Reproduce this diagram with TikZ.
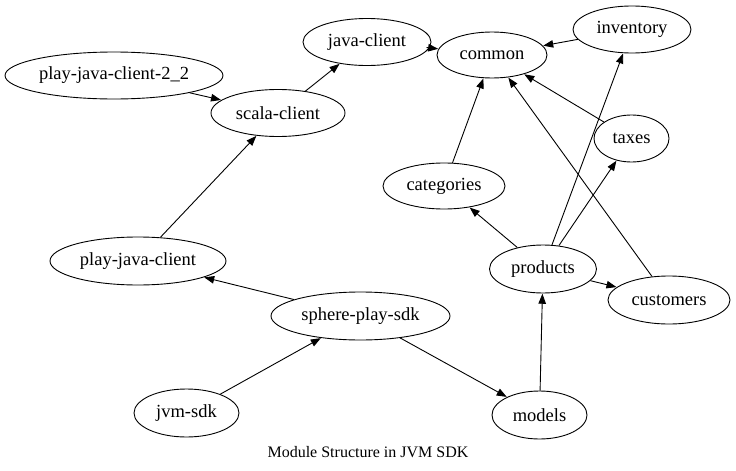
\documentclass[tikz,border=0pt]{standalone}
\usepackage{fontspec}
\setmainfont{Liberation Serif}
\usetikzlibrary{shapes.geometric,arrows.meta}
\begin{document}
\begin{tikzpicture}[x=1pt,y=-1pt,
  mod/.style={draw, ellipse, line width=0.9pt, inner sep=0pt, font=\fontsize{18.5}{20}\selectfont},
  dep/.style={line width=0.9pt, -{Triangle[length=10pt,width=7.5pt]}, shorten >=0.3pt}]
\useasboundingbox (0,0) rectangle (736,471);
\node[mod, minimum width=128pt, minimum height=47pt] (javaclient) at (367,42) {java-client};
\node[mod, minimum width=110pt, minimum height=46pt] (common) at (492,55) {common};
\node[mod, minimum width=118pt, minimum height=47pt] (inventory) at (632,29.5) {inventory};
\node[mod, minimum width=218pt, minimum height=47pt] (pjc22) at (114,75.5) {play-java-client-2\_2};
\node[mod, minimum width=134pt, minimum height=47pt] (scala) at (278,113) {scala-client};
\node[mod, minimum width=75pt, minimum height=47pt] (taxes) at (631.5,138.5) {taxes};
\node[mod, minimum width=122pt, minimum height=46pt] (categories) at (444,186) {categories};
\node[mod, minimum width=176pt, minimum height=48pt] (pjc) at (138,261) {play-java-client};
\node[mod, minimum width=107pt, minimum height=48pt] (products) at (543,269) {products};
\node[mod, minimum width=122pt, minimum height=48pt] (customers) at (669,300) {customers};
\node[mod, minimum width=179pt, minimum height=48pt] (sphere) at (360.5,316) {sphere-play-sdk};
\node[mod, minimum width=105pt, minimum height=48pt] (jvm) at (186.5,413) {jvm-sdk};
\node[mod, minimum width=95pt, minimum height=48pt] (models) at (539.5,415) {models};
\node[font=\fontsize{16}{18}\selectfont] (caption) at (368,452.5) {Module Structure in JVM SDK};
\coordinate (jctail) at (426.5,47.5);
\draw[dep] (jctail) -- (common);
\draw[dep] (inventory) -- (common);
\draw[dep] (pjc22) -- (scala);
\draw[dep] (scala) -- (javaclient);
\draw[dep] (taxes) -- (common);
\draw[dep] (categories) -- (common);
\draw[dep] (pjc) -- (scala);
\draw[dep] (products) -- (categories);
\draw[dep] (products) -- (inventory);
\draw[dep] (products) -- (taxes);
\draw[dep] (products) -- (customers);
\draw[dep] (customers) -- (common);
\draw[dep] (sphere) -- (pjc);
\draw[dep] (sphere) -- (models);
\draw[dep] (jvm) -- (sphere);
\draw[dep] (models) -- (products);
\end{tikzpicture}
\end{document}
